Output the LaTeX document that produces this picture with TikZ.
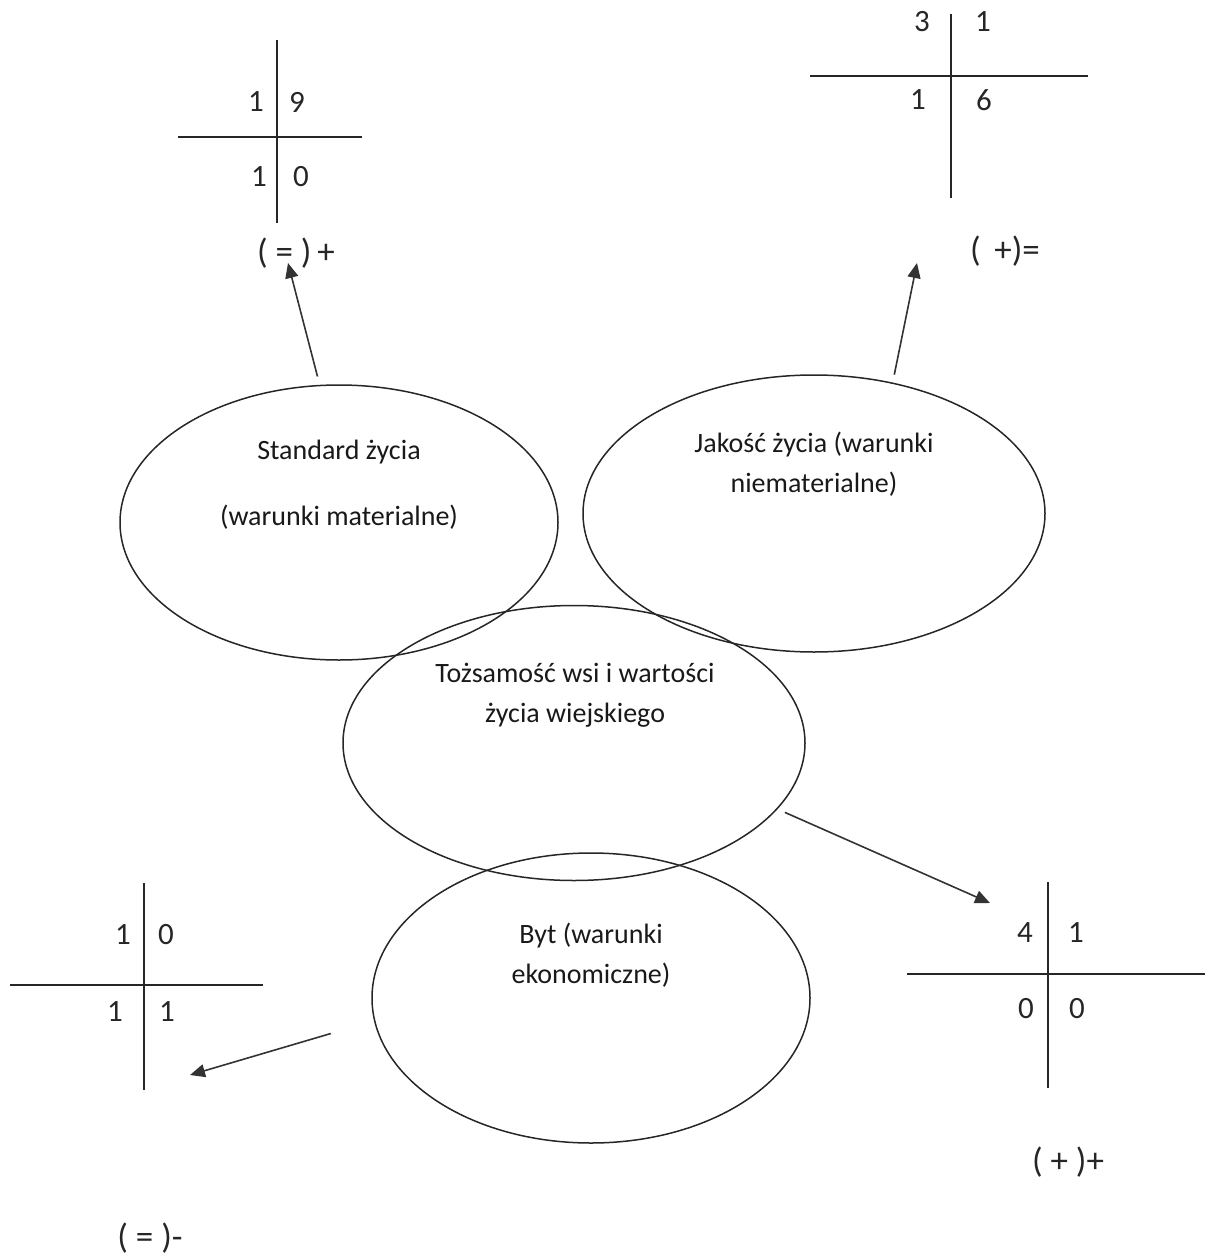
\documentclass[tikz,border=0pt]{standalone}
\usepackage{fontspec}
\setmainfont{Carlito}
\usepackage{xcolor}
\usepackage{tikz}
\usetikzlibrary{arrows.meta,positioning,shapes.geometric}

\tikzset{
  sphere/.style={draw=black!85,line width=0.75pt,ellipse,inner sep=0pt},
  spheretext/.style={align=center,font=\fontsize{14}{20}\selectfont,text=black!90},
  cell/.style={font=\fontsize{15.5}{18}\selectfont,text=black!85,inner sep=0pt},
  sign/.style={font=\fontsize{17.5}{20}\selectfont,text=black!85,inner sep=1pt},
  cross/.style={draw=black!85,line width=0.9pt},
  pointer/.style={-{Triangle[length=7.5pt,width=6.5pt]},draw=black!80,line width=0.8pt}
}

\begin{document}
\begin{tikzpicture}[x=0.5pt,y=-0.5pt]
  \useasboundingbox (0,0) rectangle (1205,1258);
  % ellipses
  \node[sphere,minimum width=219pt,minimum height=137.5pt] (std) at (339,522.5) {};
  \node[sphere,minimum width=231pt,minimum height=138.5pt] (jak) at (814,513.5) {};
  \node[sphere,minimum width=231pt,minimum height=137.5pt] (tozs) at (574,743) {};
  \node[sphere,minimum width=219pt,minimum height=145pt] (byt) at (591,998) {};
  \node[spheretext] (stdtxt) at (339,485) {Standard życia\\[13pt](warunki materialne)};
  \node[spheretext] (jaktxt) at (814,464) {Jakość życia (warunki\\niematerialne)};
  \node[spheretext] (tozstxt) at (575,695) {Tożsamość wsi i wartości\\życia wiejskiego};
  \node[spheretext] (byttxt) at (591,955.5) {Byt (warunki\\ekonomiczne)};
  % cross: standard
  \draw[cross] (277,40) -- (277,223);
  \draw[cross] (178,137) -- (362,137);
  \node[cell] (s11) at (256,102) {1};
  \node[cell] (s12) at (297,102) {9};
  \node[cell] (s21) at (259,177) {1};
  \node[cell] (s22) at (301,177) {0};
  \node[sign] (lblA) at (296,253) {( = )\,+};
  % cross: quality
  \draw[cross] (951,14) -- (951,198);
  \draw[cross] (810,76) -- (1088,76);
  \node[cell] (j11) at (922,22) {3};
  \node[cell] (j12) at (983,22) {1};
  \node[cell] (j21) at (918,100) {1};
  \node[cell] (j22) at (984,100) {6};
  \node[sign] (lblB) at (1005,251) {(\,\ +)=};
  % cross: existence
  \draw[cross] (144,883) -- (144,1090);
  \draw[cross] (10,985) -- (263,985);
  \node[cell] (b11) at (123,935) {1};
  \node[cell] (b12) at (166,935) {0};
  \node[cell] (b21) at (115,1012) {1};
  \node[cell] (b22) at (167,1012) {1};
  \node[sign] (lblC) at (150,1238) {( = )-};
  % cross: identity
  \draw[cross] (1048,882) -- (1048,1088);
  \draw[cross] (907,974) -- (1205,974);
  \node[cell] (t11) at (1025,933) {4};
  \node[cell] (t12) at (1076,933) {1};
  \node[cell] (t21) at (1026,1009) {0};
  \node[cell] (t22) at (1077,1009) {0};
  \node[sign] (lblD) at (1068,1162) {( + )+};
  % arrows
  \coordinate (tipA) at (288,263);
  \coordinate (tipB) at (917,263);
  \coordinate (tipC) at (190,1075);
  \coordinate (tipD) at (990,903);
  \draw[pointer,shorten <=4.3pt] (std.98.2) -- (tipA);
  \draw[pointer,shorten <=4pt] (jak.59.5) -- (tipB);
  \draw[pointer,shorten <=22.5pt] (byt.186.6) -- (tipC);
  \draw[pointer,shorten <=4pt] (tozs.-18.6) -- (tipD);
\end{tikzpicture}
\end{document}
